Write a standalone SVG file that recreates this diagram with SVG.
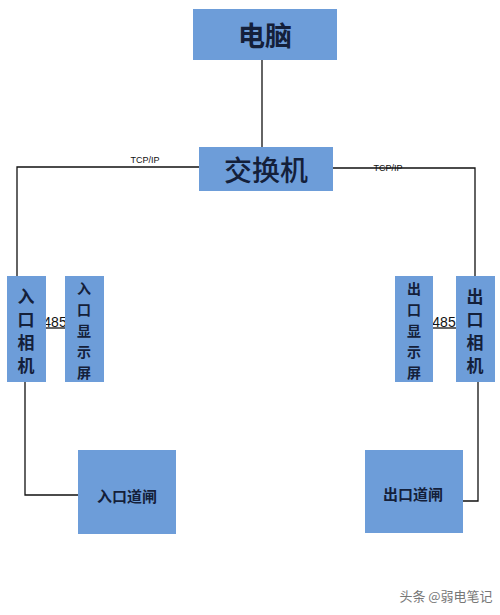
<svg xmlns="http://www.w3.org/2000/svg" width="500" height="615" viewBox="0 0 500 615">
<style>
.box{fill:#6d9dd9;}
.t{font-family:"Noto Sans CJK SC","Liberation Sans",sans-serif;fill:#14203a;text-anchor:middle;dominant-baseline:central;font-weight:bold;}
.lbl{font-family:"Liberation Sans",sans-serif;fill:#111;font-size:9px;text-anchor:middle;}
.num{font-family:"Liberation Sans",sans-serif;fill:#111;font-size:14px;text-anchor:middle;}
.ln{stroke:#111;stroke-width:1.3;fill:none;}
</style>
<rect width="500" height="615" fill="#ffffff"/>
<g id="connectors">
<path class="ln" d="M262,60 V147"/>
<path class="ln" d="M199,167 H17 V276"/>
<path class="ln" d="M333,168 H475 V276"/>
<path class="ln" d="M46,328 H65"/>
<path class="ln" d="M433,328 H456"/>
<path class="ln" d="M25,382 V495 H78"/>
<path class="ln" d="M478,382 V501 H463"/>
<text class="lbl" x="145" y="163">TCP/IP</text>
<text class="lbl" x="388" y="171">TCP/IP</text>
<text class="num" x="55" y="327">485</text>
<text class="num" x="444" y="327">485</text>
</g>
<g id="pc">
<rect class="box" x="193" y="9" width="144" height="51"/>
<text class="t" x="265" y="34" font-size="27">电脑</text>
</g>
<g id="switch">
<rect class="box" x="199" y="147" width="134" height="44"/>
<text class="t" x="266" y="169" font-size="28" style="font-weight:500">交换机</text>
</g>
<g id="in-camera">
<rect class="box" x="7" y="276" width="39" height="106"/>
<text class="t" x="26" font-size="17"><tspan x="26" y="295">入</tspan><tspan x="26" y="318">口</tspan><tspan x="26" y="341">相</tspan><tspan x="26" y="364">机</tspan></text>
</g>
<g id="in-display">
<rect class="box" x="65" y="276" width="39" height="106"/>
<text class="t" x="84" font-size="14"><tspan x="84" y="288">入</tspan><tspan x="84" y="309">口</tspan><tspan x="84" y="330">显</tspan><tspan x="84" y="351">示</tspan><tspan x="84" y="372">屏</tspan></text>
</g>
<g id="out-display">
<rect class="box" x="395" y="276" width="38" height="106"/>
<text class="t" x="414" font-size="14"><tspan x="414" y="288">出</tspan><tspan x="414" y="309">口</tspan><tspan x="414" y="330">显</tspan><tspan x="414" y="351">示</tspan><tspan x="414" y="372">屏</tspan></text>
</g>
<g id="out-camera">
<rect class="box" x="456" y="276" width="39" height="106"/>
<text class="t" x="475" font-size="17"><tspan x="475" y="295">出</tspan><tspan x="475" y="318">口</tspan><tspan x="475" y="341">相</tspan><tspan x="475" y="364">机</tspan></text>
</g>
<g id="in-gate">
<rect class="box" x="78" y="450" width="98" height="84"/>
<text class="t" x="127" y="495" font-size="15">入口道闸</text>
</g>
<g id="out-gate">
<rect class="box" x="365" y="450" width="98" height="83"/>
<text class="t" x="413" y="493" font-size="15">出口道闸</text>
</g>
<text x="446" y="601" font-family="Noto Sans CJK SC, Liberation Sans, sans-serif" font-size="13" fill="#777" text-anchor="middle">头条 @弱电笔记</text>
</svg>
